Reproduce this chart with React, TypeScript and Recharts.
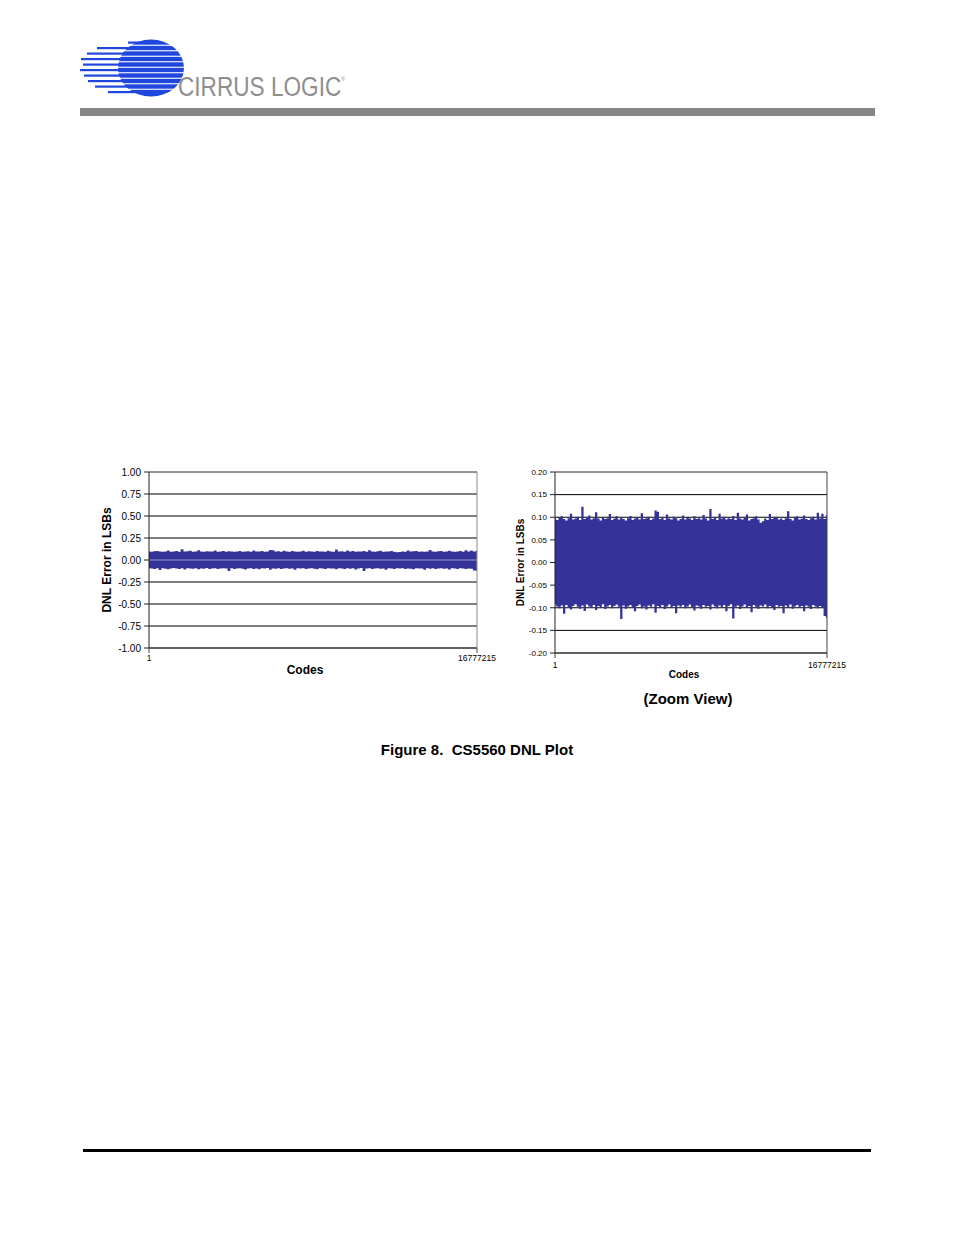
import React from 'react';
import {
  ComposedChart,
  Area,
  XAxis,
  YAxis,
  CartesianGrid,
  ReferenceLine,
  Label,
} from 'recharts';

// x axis: code range of the 24-bit converter
const CODE_FIRST = 1;
const CODE_LAST = 16777215;
const codeTicks = [CODE_FIRST, CODE_LAST];

// y axis ticks for the full view and the zoom view
const fullTicks = [-1, -0.75, -0.5, -0.25, 0, 0.25, 0.5, 0.75, 1];
const zoomTicks = [-0.2, -0.15, -0.1, -0.05, 0, 0.05, 0.1, 0.15, 0.2];

const dnlHigh = [
  0.097, 0.094, 0.099, 0.102, 0.096, 0.093, 0.098, 0.108, 0.095, 0.097,
  0.101, 0.094, 0.123, 0.096, 0.099, 0.104, 0.095, 0.098, 0.111, 0.097,
  0.093, 0.100, 0.096, 0.098, 0.107, 0.094, 0.097, 0.102, 0.095, 0.099,
  0.096, 0.093, 0.098, 0.103, 0.094, 0.097, 0.099, 0.095, 0.109, 0.096,
  0.098, 0.101, 0.094, 0.097, 0.115, 0.112, 0.096, 0.099, 0.094, 0.106,
  0.097, 0.095, 0.101, 0.098, 0.093, 0.096, 0.104, 0.095, 0.099, 0.097,
  0.094, 0.102, 0.096, 0.098, 0.095, 0.105, 0.097, 0.093, 0.118, 0.096,
  0.099, 0.094, 0.108, 0.097, 0.101, 0.095, 0.098, 0.096, 0.103, 0.094,
  0.110, 0.097, 0.095, 0.099, 0.106, 0.093, 0.096, 0.098, 0.102, 0.095,
  0.088, 0.091, 0.097, 0.094, 0.107, 0.096, 0.099, 0.101, 0.095, 0.097,
  0.094, 0.098, 0.113, 0.096, 0.093, 0.099, 0.102, 0.095, 0.097, 0.104,
  0.096, 0.094, 0.098, 0.101, 0.095, 0.110, 0.097, 0.108, 0.096, 0.105,
];

const dnlLow = [
  -0.093, -0.097, -0.101, -0.095, -0.113, -0.094, -0.099, -0.104, -0.096, -0.092,
  -0.098, -0.102, -0.095, -0.107, -0.093, -0.097, -0.100, -0.094, -0.105, -0.096,
  -0.099, -0.092, -0.103, -0.097, -0.094, -0.101, -0.096, -0.093, -0.098, -0.125,
  -0.095, -0.102, -0.097, -0.094, -0.099, -0.108, -0.096, -0.093, -0.101, -0.097,
  -0.104, -0.095, -0.098, -0.092, -0.111, -0.096, -0.099, -0.094, -0.103, -0.097,
  -0.093, -0.100, -0.096, -0.112, -0.095, -0.098, -0.094, -0.101, -0.097, -0.093,
  -0.099, -0.106, -0.095, -0.097, -0.102, -0.094, -0.098, -0.096, -0.104, -0.093,
  -0.097, -0.101, -0.095, -0.099, -0.094, -0.108, -0.096, -0.092, -0.124, -0.098,
  -0.095, -0.103, -0.097, -0.093, -0.100, -0.096, -0.110, -0.094, -0.098, -0.102,
  -0.095, -0.097, -0.093, -0.101, -0.096, -0.099, -0.105, -0.094, -0.098, -0.096,
  -0.112, -0.095, -0.099, -0.093, -0.102, -0.097, -0.094, -0.100, -0.096, -0.108,
  -0.095, -0.098, -0.103, -0.094, -0.097, -0.101, -0.096, -0.099, -0.118, -0.122,
];

const data = dnlHigh.map((hi, i) => ({
  code: CODE_FIRST + (i * (CODE_LAST - CODE_FIRST)) / (dnlHigh.length - 1),
  range: [dnlLow[i], hi],
}));

const FONT = 'Arial, "Liberation Sans", Helvetica, sans-serif';
const BAND = '#333399';

interface DnlChartProps {
  width: number;
  height: number;
  yAxisWidth: number;
  plotTop: number;
  rightMargin: number;
  xAxisHeight: number;
  ticks: number[];
  yTickSize: number;
  xTickSize: number;
  xTickMargin: number;
  titleSize: number;
  yLabelOffset: number;
  codesOffset: number;
  codesDx: number;
  rightBorder: string;
  zeroLine?: boolean;
}

function DnlChart({
  width,
  height,
  yAxisWidth,
  plotTop,
  rightMargin,
  xAxisHeight,
  ticks,
  yTickSize,
  xTickSize,
  xTickMargin,
  titleSize,
  yLabelOffset,
  codesOffset,
  codesDx,
  rightBorder,
  zeroLine,
}: DnlChartProps) {
  const yMin = ticks[0];
  const yMax = ticks[ticks.length - 1];
  return (
    <ComposedChart
      width={width}
      height={height}
      data={data}
      margin={{ top: plotTop, right: rightMargin, left: 0, bottom: 0 }}
    >
      <CartesianGrid vertical={false} stroke="#000" strokeWidth={1} />
      <XAxis
        dataKey="code"
        type="number"
        domain={[CODE_FIRST, CODE_LAST]}
        ticks={codeTicks}
        interval={0}
        height={xAxisHeight}
        tickSize={5}
        tickMargin={xTickMargin}
        tick={{ fontSize: xTickSize, fill: '#000', fontFamily: FONT }}
        axisLine={{ stroke: '#444' }}
        tickLine={{ stroke: '#444' }}
      >
        <Label
          value="Codes"
          position="insideBottom"
          offset={codesOffset}
          dx={codesDx}
          style={{ fontSize: titleSize, fontWeight: 'bold', fill: '#000', fontFamily: FONT }}
        />
      </XAxis>
      <YAxis
        type="number"
        domain={[yMin, yMax]}
        ticks={ticks}
        interval={0}
        width={yAxisWidth}
        tickSize={5}
        tickMargin={3}
        tickFormatter={(v: number) => v.toFixed(2)}
        tick={{ fontSize: yTickSize, fill: '#000', fontFamily: FONT }}
        axisLine={{ stroke: '#222' }}
        tickLine={{ stroke: '#222' }}
      >
        <Label
          value="DNL Error in LSBs"
          angle={-90}
          position="insideLeft"
          offset={yLabelOffset}
          style={{
            fontSize: titleSize,
            fontWeight: 'bold',
            fill: '#000',
            fontFamily: FONT,
            textAnchor: 'middle',
          }}
        />
      </YAxis>
      <Area
        type="step"
        dataKey="range"
        stroke="none"
        fill={BAND}
        fillOpacity={1}
        isAnimationActive={false}
        dot={false}
        activeDot={false}
      />
      {zeroLine && <ReferenceLine y={0} stroke="#9a9dcc" strokeWidth={1} />}
      <ReferenceLine y={yMax} stroke="#a8a8a8" strokeWidth={1} />
      <ReferenceLine x={CODE_LAST} stroke={rightBorder} strokeWidth={1} />
    </ComposedChart>
  );
}

function Logo() {
  const cx = 151;
  const cy = 68;
  const rx = 33;
  const ry = 28.5;
  const rows = [
    { y: 42.5, x0: 128 },
    { y: 48, x0: 97 },
    { y: 53.5, x0: 87 },
    { y: 59, x0: 81 },
    { y: 64.5, x0: 83 },
    { y: 70, x0: 80 },
    { y: 75.5, x0: 84 },
    { y: 81, x0: 88 },
    { y: 86.5, x0: 95 },
    { y: 92, x0: 108 },
  ];
  return (
    <svg width={954} height={130} style={{ position: 'absolute', left: 0, top: 0 }}>
      {rows.map((r) => (
        <rect key={r.y} x={r.x0} y={r.y - 1} width={cx - r.x0} height={2.2} fill="#1f46dd" />
      ))}
      <ellipse cx={cx} cy={cy} rx={rx} ry={ry} fill="#1f46dd" />
      {rows.slice(0, -1).map((r) => (
        <rect key={'g' + r.y} x={cx - rx - 2} y={r.y + 2.2} width={rx * 2 + 4} height={1.1} fill="#fff" />
      ))}
      <text
        x={178}
        y={96}
        fontSize={27}
        fill="#8e8e8e"
        fontFamily='"Liberation Sans Narrow", Arial, sans-serif'
        textLength={167}
        lengthAdjust="spacingAndGlyphs"
      >
        CIRRUS LOGIC
        <tspan fontSize={6} dy={-15} fontFamily={FONT}>
          ®
        </tspan>
      </text>
      <rect x={80} y={108} width={795} height={8} fill="#878787" />
    </svg>
  );
}

export default function App() {
  return (
    <div
      style={{
        position: 'absolute',
        left: 0,
        top: 0,
        width: 954,
        height: 1235,
        background: '#fff',
        fontFamily: FONT,
        color: '#000',
      }}
    >
      <Logo />

      <div style={{ position: 'absolute', left: 95, top: 462 }}>
        <DnlChart
          width={418}
          height={218}
          yAxisWidth={54}
          plotTop={10}
          rightMargin={36}
          xAxisHeight={32}
          ticks={fullTicks}
          yTickSize={10}
          xTickSize={8.5}
          xTickMargin={2}
          titleSize={12}
          yLabelOffset={12}
          codesOffset={6}
          codesDx={-8}
          rightBorder="#8c8c8c"
          zeroLine
        />
      </div>

      <div style={{ position: 'absolute', left: 505, top: 462 }}>
        <DnlChart
          width={352}
          height={219}
          yAxisWidth={50}
          plotTop={10}
          rightMargin={30}
          xAxisHeight={28}
          ticks={zoomTicks}
          yTickSize={8}
          xTickSize={8.5}
          xTickMargin={4}
          titleSize={10}
          yLabelOffset={15}
          codesOffset={3}
          codesDx={-7}
          rightBorder="#444"
        />
      </div>

      <div
        style={{
          position: 'absolute',
          left: 588,
          top: 689,
          width: 200,
          textAlign: 'center',
          fontSize: 15,
          fontWeight: 'bold',
          lineHeight: '20px',
        }}
      >
        (Zoom View)
      </div>

      <div
        style={{
          position: 'absolute',
          left: 277,
          top: 740,
          width: 400,
          textAlign: 'center',
          fontSize: 15,
          fontWeight: 'bold',
          lineHeight: '20px',
          whiteSpace: 'pre',
        }}
      >
        {'Figure 8.  CS5560 DNL Plot'}
      </div>

      <div
        style={{
          position: 'absolute',
          left: 83,
          top: 1149,
          width: 788,
          height: 3,
          background: '#000',
        }}
      />
    </div>
  );
}
